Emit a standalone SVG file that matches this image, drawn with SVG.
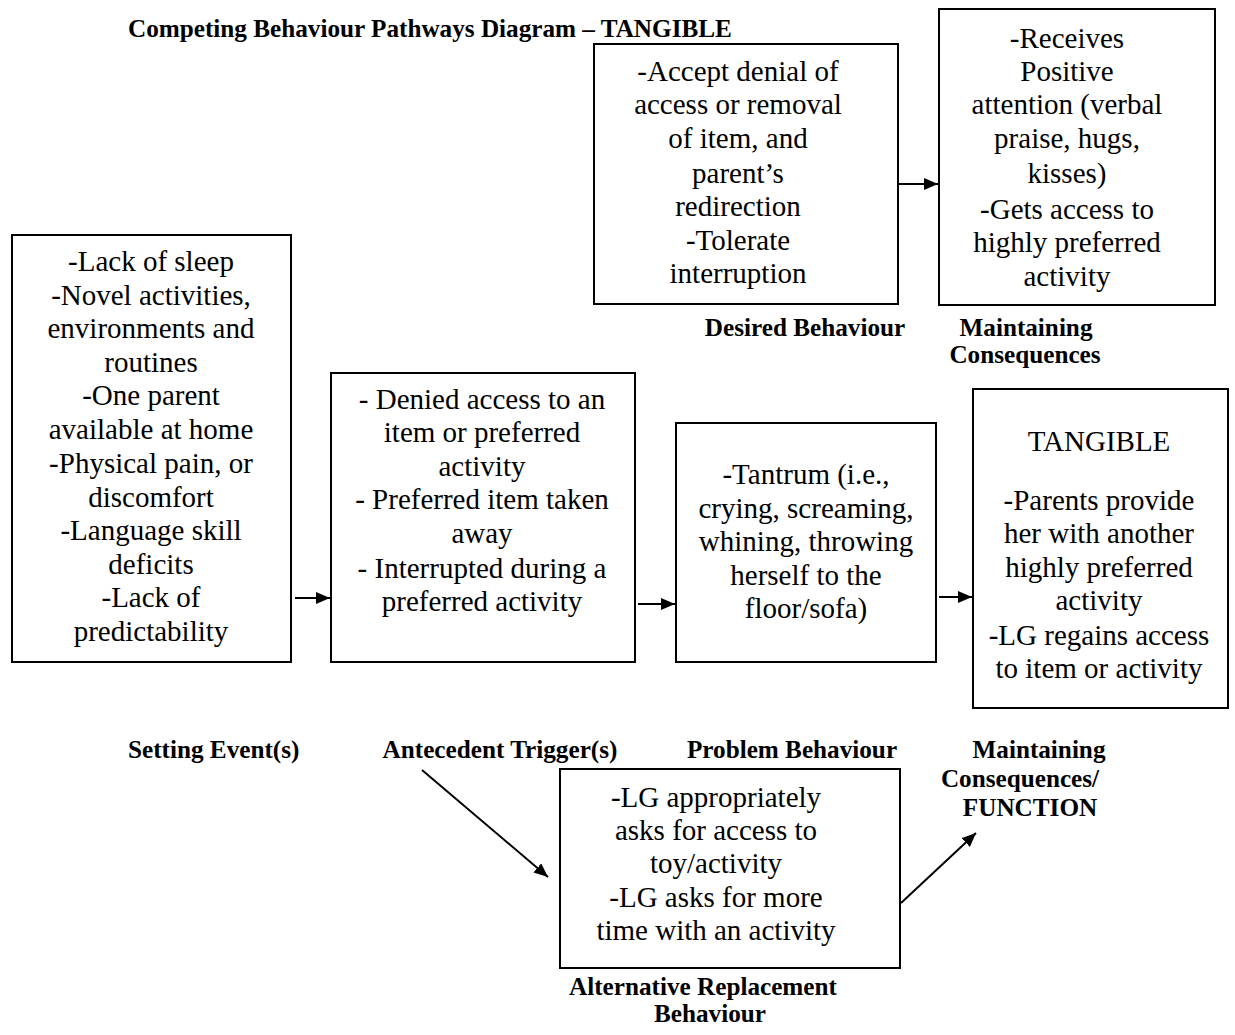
<svg xmlns="http://www.w3.org/2000/svg" width="1235" height="1035" viewBox="0 0 1235 1035">
<defs>
<marker id="ah" viewBox="0 0 14 12" refX="14" refY="6" markerWidth="14" markerHeight="12" markerUnits="userSpaceOnUse" orient="auto">
<path d="M0,0 L14,6 L0,12 z" fill="#000"/>
</marker>
<style>
.box{fill:#fff;stroke:#000;stroke-width:2}
.t{font-family:"Liberation Serif","Times New Roman",serif;font-size:29px;fill:#000;text-anchor:middle;dominant-baseline:central}
.b{font-family:"Liberation Serif","Times New Roman",serif;font-size:25.2px;font-weight:bold;fill:#000;dominant-baseline:central}
.c{text-anchor:middle}
.ln{stroke:#000;stroke-width:2;fill:none;marker-end:url(#ah)}
</style>
</defs>
<rect width="1235" height="1035" fill="#fff"/>
<text class="b" x="128" y="28">Competing Behaviour Pathways Diagram – TANGIBLE</text>

<g id="desired">
<rect class="box" x="594" y="44" width="304" height="260"/>
<text class="t" x="738" y="71">-Accept denial of</text>
<text class="t" x="738" y="104">access or removal</text>
<text class="t" x="738" y="138">of item, and</text>
<text class="t" x="738" y="173">parent’s</text>
<text class="t" x="738" y="206">redirection</text>
<text class="t" x="738" y="240">-Tolerate</text>
<text class="t" x="738" y="273">interruption</text>
</g>
<g id="maintaining-top">
<rect class="box" x="939" y="9" width="276" height="296"/>
<text class="t" x="1067" y="38">-Receives</text>
<text class="t" x="1067" y="71">Positive</text>
<text class="t" x="1067" y="104">attention (verbal</text>
<text class="t" x="1067" y="138">praise, hugs,</text>
<text class="t" x="1067" y="173">kisses)</text>
<text class="t" x="1067" y="209">-Gets access to</text>
<text class="t" x="1067" y="242">highly preferred</text>
<text class="t" x="1067" y="276">activity</text>
</g>
<g id="setting">
<rect class="box" x="12" y="235" width="279" height="427"/>
<text class="t" x="151" y="261">-Lack of sleep</text>
<text class="t" x="151" y="295">-Novel activities,</text>
<text class="t" x="151" y="328">environments and</text>
<text class="t" x="151" y="362">routines</text>
<text class="t" x="151" y="395">-One parent</text>
<text class="t" x="151" y="429">available at home</text>
<text class="t" x="151" y="463">-Physical pain, or</text>
<text class="t" x="151" y="497">discomfort</text>
<text class="t" x="151" y="530">-Language skill</text>
<text class="t" x="151" y="564">deficits</text>
<text class="t" x="151" y="597">-Lack of</text>
<text class="t" x="151" y="631">predictability</text>
</g>
<g id="antecedent">
<rect class="box" x="331" y="373" width="304" height="289"/>
<text class="t" x="482" y="399">- Denied access to an</text>
<text class="t" x="482" y="432">item or preferred</text>
<text class="t" x="482" y="466">activity</text>
<text class="t" x="482" y="499">- Preferred item taken</text>
<text class="t" x="482" y="533">away</text>
<text class="t" x="482" y="568">- Interrupted during a</text>
<text class="t" x="482" y="601">preferred activity</text>
</g>
<g id="problem">
<rect class="box" x="676" y="423" width="260" height="239"/>
<text class="t" x="806" y="474">-Tantrum (i.e.,</text>
<text class="t" x="806" y="508">crying, screaming,</text>
<text class="t" x="806" y="541">whining, throwing</text>
<text class="t" x="806" y="575">herself to the</text>
<text class="t" x="806" y="608">floor/sofa)</text>
</g>
<g id="tangible">
<rect class="box" x="973" y="389" width="255" height="319"/>
<text class="t" x="1099" y="441">TANGIBLE</text>
<text class="t" x="1099" y="500">-Parents provide</text>
<text class="t" x="1099" y="533">her with another</text>
<text class="t" x="1099" y="567">highly preferred</text>
<text class="t" x="1099" y="600">activity</text>
<text class="t" x="1099" y="635">-LG regains access</text>
<text class="t" x="1099" y="668">to item or activity</text>
</g>
<g id="alternative">
<rect class="box" x="560" y="769" width="340" height="199"/>
<text class="t" x="716" y="797">-LG appropriately</text>
<text class="t" x="716" y="830">asks for access to</text>
<text class="t" x="716" y="863">toy/activity</text>
<text class="t" x="716" y="897">-LG asks for more</text>
<text class="t" x="716" y="930">time with an activity</text>
</g>

<g id="labels">
<text class="b c" x="805" y="327">Desired Behaviour</text>
<text class="b c" x="1026" y="327">Maintaining</text>
<text class="b c" x="1025" y="354">Consequences</text>
<text class="b" x="128" y="749">Setting Event(s)</text>
<text class="b c" x="500" y="749">Antecedent Trigger(s)</text>
<text class="b c" x="792" y="749">Problem Behaviour</text>
<text class="b c" x="1039" y="749">Maintaining</text>
<text class="b c" x="1020" y="778">Consequences/</text>
<text class="b c" x="1030" y="807">FUNCTION</text>
<text class="b c" x="703" y="986">Alternative Replacement</text>
<text class="b c" x="710" y="1013">Behaviour</text>
</g>

<g id="connectors">
<line class="ln" x1="899" y1="184" x2="938" y2="184"/>
<line class="ln" x1="295" y1="598" x2="330" y2="598"/>
<line class="ln" x1="638" y1="604" x2="675" y2="604"/>
<line class="ln" x1="939" y1="597" x2="972" y2="597"/>
<line class="ln" x1="422" y1="770" x2="548" y2="877"/>
<line class="ln" x1="901" y1="903" x2="976" y2="833"/>
</g>
</svg>
